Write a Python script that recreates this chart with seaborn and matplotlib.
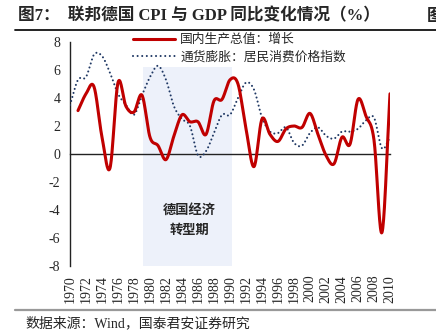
import numpy as np
import matplotlib
matplotlib.use("Agg")
import matplotlib.pyplot as plt
import seaborn as sns
from matplotlib.lines import Line2D
from matplotlib.patches import Rectangle

# ---------------- data ----------------
gdp_years = list(range(1971, 2011))
gdp_values = [3.1, 4.3, 4.8, 1.2, -1.0, 5.1, 3.4, 3.0, 4.2, 1.2,
              0.6, -0.4, 1.3, 2.8, 2.3, 2.3, 1.4, 3.8, 3.9, 5.3,
              5.0, 1.8, -0.9, 2.5, 1.4, 0.9, 1.8, 2.0, 1.9, 2.9,
              1.4, -0.1, -0.7, 1.2, 0.7, 3.9, 2.7, 1.0, -5.6, 4.3]

cpi_years = list(range(1970, 2011))
cpi_values = [3.5, 5.3, 5.5, 7.1, 7.0, 5.8, 4.3, 3.5, 2.8, 4.2,
              5.5, 6.3, 5.3, 3.4, 2.5, 2.0, -0.1, 0.2, 1.5, 2.8,
              2.8, 4.0, 5.1, 4.6, 2.6, 1.6, 1.5, 1.9, 0.8, 0.6,
              1.5, 1.9, 1.3, 1.1, 1.6, 1.6, 1.8, 2.4, 2.6, 0.4, 1.2]

series_labels = ["国内生产总值：增长", "通货膨胀：居民消费价格指数"]
title_text = "图7：  联邦德国 CPI 与 GDP 同比变化情况（%）"
source_text = "数据来源：Wind，国泰君安证券研究"
shade_label = "德国经济\n转型期"
shade_start, shade_end, shade_top = 1979.1, 1990.3, 6.2
x_ticks = list(range(1970, 2011, 2))
y_ticks = list(range(-8, 9, 2))


def smooth(xs, ys, n=20):
    """Catmull-Rom rendering of a smoothed line (Excel-like)."""
    x = np.asarray(xs, float)
    y = np.asarray(ys, float)
    px = np.concatenate([[2 * x[0] - x[1]], x, [2 * x[-1] - x[-2]]])
    py = np.concatenate([[2 * y[0] - y[1]], y, [2 * y[-1] - y[-2]]])
    out_x, out_y = [], []
    t = np.linspace(0, 1, n, endpoint=False)
    for i in range(1, len(px) - 2):
        for p, o in ((px, out_x), (py, out_y)):
            a, b, c, d = p[i - 1:i + 3]
            o.extend(0.5 * ((2 * b) + (-a + c) * t +
                            (2 * a - 5 * b + 4 * c - d) * t ** 2 +
                            (-a + 3 * b - 3 * c + d) * t ** 3))
    out_x.append(x[-1])
    out_y.append(y[-1])
    return np.array(out_x), np.array(out_y)


sns.set_style("white")
plt.rcParams['font.family'] = ['Liberation Serif', 'Noto Sans CJK SC']

W, H = 436, 333
fig = plt.figure(figsize=(W / 100, H / 100), dpi=100)
ax = fig.add_axes([70 / W, (H - 266) / H, 320 / W, 224 / H])

red = "#C00000"
navy = "#1F3864"
dot_style = (0, (0.01, 2.0))

ax.add_patch(Rectangle((shade_start, -8), shade_end - shade_start, shade_top + 8,
                       facecolor="#EDF1FA", edgecolor="none", zorder=0))

cx, cy = smooth(cpi_years, cpi_values)
sns.lineplot(x=cx, y=cy, ax=ax, color=navy, linewidth=1.5, sort=False,
             linestyle=dot_style, dash_capstyle="round", zorder=3)
gx, gy = smooth(gdp_years, gdp_values)
sns.lineplot(x=gx, y=gy, ax=ax, color=red, linewidth=2.2, sort=False, zorder=4)

ax.set_xlim(1970, 2010)
ax.set_ylim(-8, 8)
ax.set_xticks(x_ticks)
ax.set_xticklabels([str(v) for v in x_ticks], fontsize=9)
ax.set_yticks(y_ticks)
ax.set_yticklabels([str(v) for v in y_ticks], fontsize=10)
for s in ["top", "right"]:
    ax.spines[s].set_visible(False)
ax.spines["left"].set_color("#222222")
ax.spines["left"].set_linewidth(1.0)
ax.spines["bottom"].set_position(("data", 0))
ax.spines["bottom"].set_color("#222222")
ax.spines["bottom"].set_linewidth(1.0)
ax.tick_params(axis="y", direction="out", length=4, width=1, color="#222222", pad=3)
ax.tick_params(axis="x", direction="out", length=4, width=1, color="#222222", pad=83,
               labelrotation=90)
ax.grid(False)
ax.set_xlabel("")
ax.set_ylabel("")

ax.text((shade_start + shade_end) / 2 + 0.2, -4.7, shade_label, ha="center", va="center",
        fontsize=9.5, fontweight="bold", family=["Noto Sans CJK SC"], linespacing=1.5)

handles = [Line2D([], [], color=red, linewidth=2.2),
           Line2D([], [], color=navy, linewidth=1.5, linestyle=(0, (0.01, 2.2)),
                  dash_capstyle="round")]
fig.legend(handles, series_labels, loc="upper left",
           bbox_to_anchor=(133 / W, 1 - 33 / H), bbox_transform=fig.transFigure,
           frameon=False, handlelength=3.3, handletextpad=0.4,
           borderpad=0, borderaxespad=0, labelspacing=0.35,
           prop={"family": ["Noto Sans CJK SC"], "size": 9.2})

fig.text(18 / W, 1 - 16 / H, title_text, ha="left", va="center", fontsize=12,
         fontweight="bold")
fig.text(427 / W, 1 - 16 / H, "图", ha="left", va="center", fontsize=12,
         fontweight="bold", family=["Noto Sans CJK SC"])
fig.add_artist(Line2D([15 / W, 1], [1 - 30 / H, 1 - 30 / H], color="#111111",
                      linewidth=1.3, transform=fig.transFigure))
fig.add_artist(Line2D([15 / W, 1], [1 - 310 / H, 1 - 310 / H], color="#999999",
                      linewidth=1.6, transform=fig.transFigure))
fig.text(25 / W, 1 - 323 / H, source_text, ha="left", va="center", fontsize=10)

fig.savefig("out.png", dpi=100)
